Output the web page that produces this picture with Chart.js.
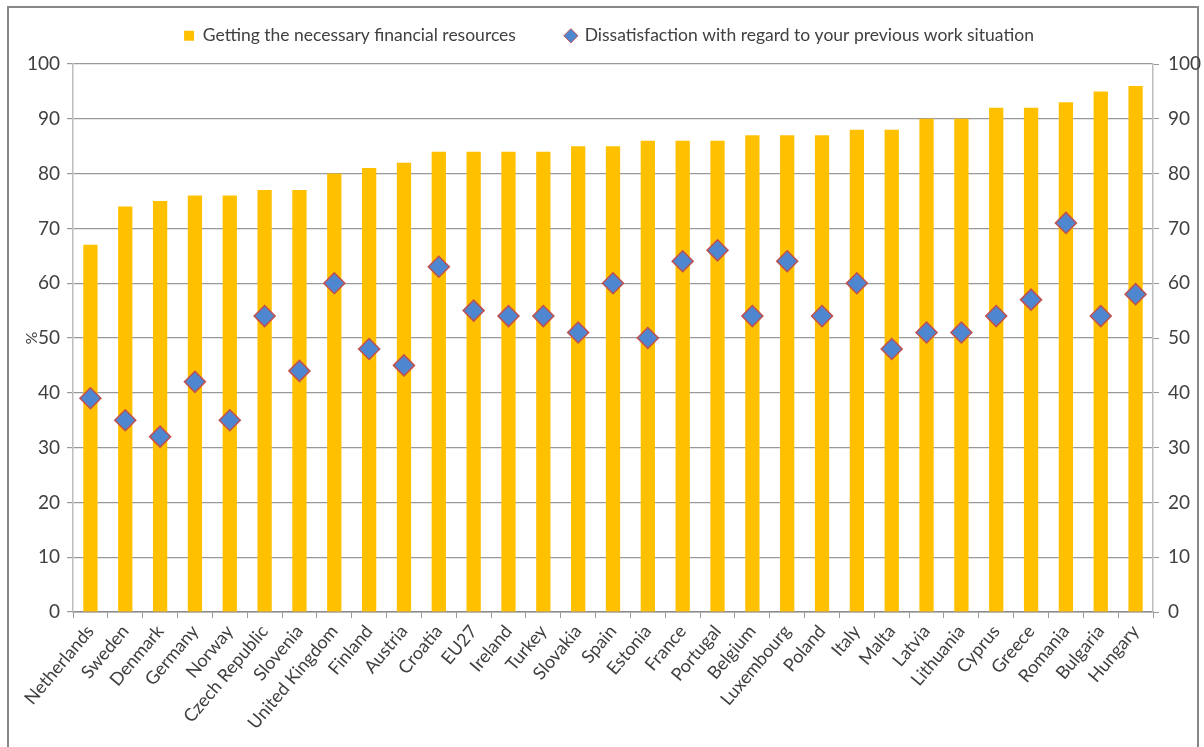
<!DOCTYPE html>
<html>
<head>
<meta charset="utf-8">
<script src="https://cdn.jsdelivr.net/npm/chart.js@4.4.1/dist/chart.umd.min.js"></script>
<style>
  html, body { margin: 0; padding: 0; background: #fff; }
  #wrap { position: relative; width: 1204px; height: 747px; overflow: hidden; }
  #frame { position: absolute; left: 7px; top: 6px; width: 1192px; height: 800px; border: 2px solid #888; box-sizing: border-box; }
  canvas { position: absolute; left: 0; top: 0; }
</style>
</head>
<body>
<div id="wrap">
  <div id="frame"></div>
  <canvas id="chart" width="1204" height="747"></canvas>
</div>
<script>
const countries = ['Netherlands', 'Sweden', 'Denmark', 'Germany', 'Norway', 'Czech Republic', 'Slovenia',
  'United Kingdom', 'Finland', 'Austria', 'Croatia', 'EU27', 'Ireland', 'Turkey', 'Slovakia', 'Spain',
  'Estonia', 'France', 'Portugal', 'Belgium', 'Luxembourg', 'Poland', 'Italy', 'Malta', 'Latvia',
  'Lithuania', 'Cyprus', 'Greece', 'Romania', 'Bulgaria', 'Hungary'];
const financialResources = [67, 74, 75, 76, 76, 77, 77, 80, 81, 82, 84, 84, 84, 84, 85, 85,
  86, 86, 86, 87, 87, 87, 88, 88, 90, 90, 92, 92, 93, 95, 96];
const workDissatisfaction = [39, 35, 32, 42, 35, 54, 44, 60, 48, 45, 63, 55, 54, 54, 51, 60,
  50, 64, 66, 54, 64, 54, 60, 48, 51, 51, 54, 57, 71, 54, 58];
const seriesNames = ['Getting the necessary financial resources', 'Dissatisfaction with regard to your previous work situation'];
const yTicks = [0, 10, 20, 30, 40, 50, 60, 70, 80, 90, 100];

const FONT = 'Lato, "Open Sans", sans-serif';
const TEXT = '#404040';

// keeps the legend row in place while leaving a wide gap between the two items
const legendBox = {
  id: 'legendBox',
  afterInit(chart) {
    const lg = chart.legend;
    if (!lg) return;
    const fit = lg.fit.bind(lg);
    lg.fit = () => { fit(); lg.height = 87; };
  }
};

new Chart(document.getElementById('chart'), {
  data: {
    labels: countries,
    datasets: [
      {
        type: 'bar',
        label: seriesNames[0],
        data: financialResources,
        backgroundColor: '#FFC000',
        borderWidth: 0,
        barPercentage: 0.41,
        categoryPercentage: 1,
        yAxisID: 'y',
        order: 1
      },
      {
        type: 'line',
        label: seriesNames[1],
        data: workDissatisfaction,
        showLine: false,
        pointStyle: 'rectRot',
        pointRadius: 10.5,
        pointHoverRadius: 10.5,
        pointBackgroundColor: '#4F86D0',
        pointBorderColor: '#C0504D',
        pointBorderWidth: 1.5,
        backgroundColor: '#4F86D0',
        borderColor: '#C0504D',
        yAxisID: 'y',
        order: 0
      }
    ]
  },
  options: {
    responsive: false,
    animation: false,
    devicePixelRatio: 1,
    layout: { padding: { left: 14, right: 0, top: -23, bottom: 0 } },
    plugins: {
      tooltip: { enabled: false },
      legend: {
        position: 'top',
        labels: {
          usePointStyle: true,
          boxWidth: 10,
          boxHeight: 10,
          padding: 50,
          color: TEXT,
          font: { family: FONT, size: 17.5 },
          sort: (a, b) => a.datasetIndex - b.datasetIndex,
          generateLabels(chart) {
            const items = Chart.defaults.plugins.legend.labels.generateLabels(chart);
            items.forEach((it) => {
              if (it.datasetIndex === 0) {
                it.pointStyle = 'rect';
                it.fillStyle = '#FFC000';
                it.strokeStyle = '#FFC000';
                it.lineWidth = 0;
              } else {
                it.pointStyle = 'rectRot';
                it.fillStyle = '#4F86D0';
                it.strokeStyle = '#C0504D';
                it.lineWidth = 1;
              }
            });
            return items;
          }
        }
      }
    },
    scales: {
      x: {
        offset: true,
        grid: { display: true, drawOnChartArea: false, drawTicks: true, tickLength: 6, color: '#999', offset: true },
        border: { display: true, color: '#8c8c8c', width: 1.5 },
        ticks: {
          color: TEXT,
          font: { family: FONT, size: 18 },
          maxRotation: 50,
          minRotation: 50,
          autoSkip: false,
          padding: 3
        },
        afterFit(scale) { scale.height = 135; }
      },
      y: {
        position: 'left',
        min: 0,
        max: 100,
        afterBuildTicks(scale) { scale.ticks = yTicks.map((v) => ({ value: v })); },
        grid: { color: '#999', lineWidth: 1.2, drawTicks: true, tickLength: 6 },
        border: { display: true, color: '#bdbdbd', width: 1.5 },
        ticks: { color: TEXT, font: { family: FONT, size: 19 }, padding: 7 },
        title: { display: true, text: '%', color: TEXT, font: { family: FONT, size: 16 }, padding: { top: 8, bottom: 0 } },
        afterFit(scale) { scale.width = 59; }
      },
      y2: {
        position: 'right',
        min: 0,
        max: 100,
        afterBuildTicks(scale) { scale.ticks = yTicks.map((v) => ({ value: v })); },
        grid: { drawOnChartArea: false, drawTicks: true, tickLength: 6, color: '#999' },
        border: { display: true, color: '#bdbdbd', width: 1.5 },
        ticks: { color: TEXT, font: { family: FONT, size: 19 }, padding: 9 },
        afterFit(scale) { scale.width = 51; }
      }
    }
  },
  plugins: [legendBox]
});
</script>
</body>
</html>
